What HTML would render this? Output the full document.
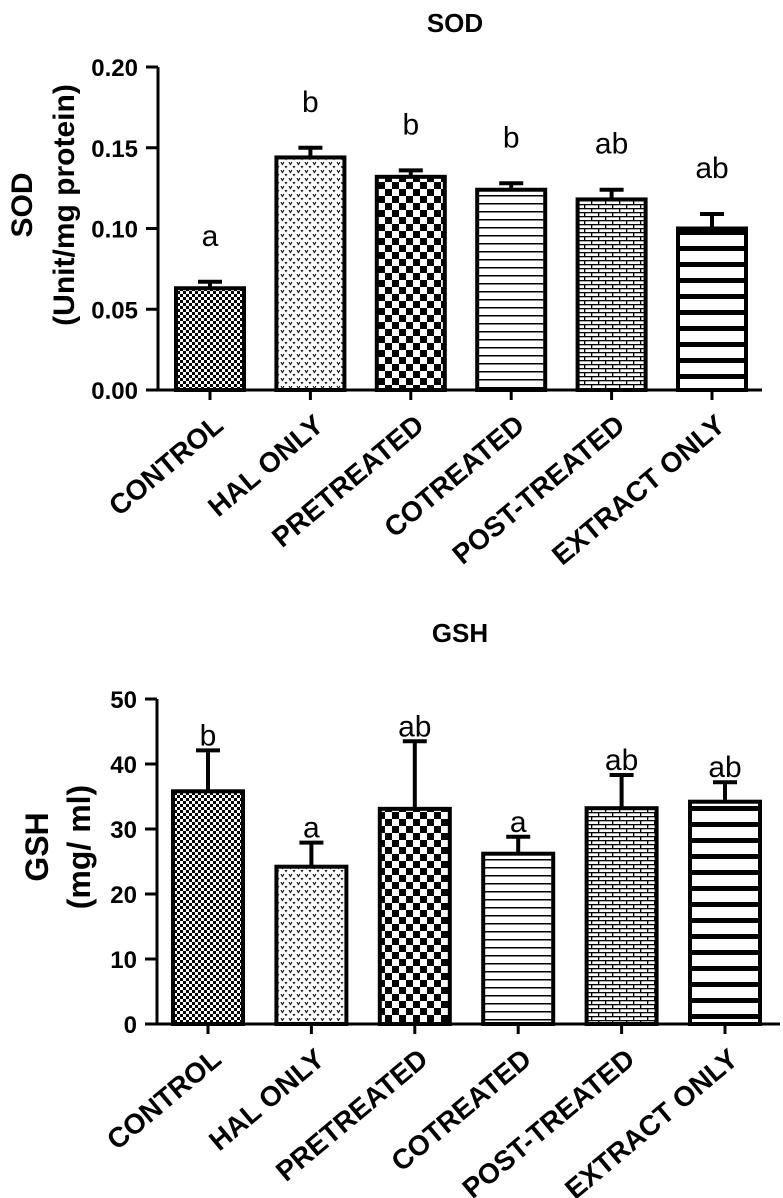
<!DOCTYPE html>
<html><head><meta charset="utf-8"><style>
html,body{margin:0;padding:0;background:#fff;}
svg{display:block;font-family:"Liberation Sans",Arial,sans-serif;}
</style></head><body>
<svg id="chart" width="783" height="1198" viewBox="0 0 783 1198">
<defs>
<pattern id="p0" width="6" height="6" patternUnits="userSpaceOnUse"><rect width="6" height="6" fill="#fff"/><rect width="3" height="3" fill="#000"/><rect x="3" y="3" width="3" height="3" fill="#000"/></pattern>
<pattern id="p1" width="8" height="8" patternUnits="userSpaceOnUse"><rect width="8" height="8" fill="#fff"/><path d="M1 2 L2.5 4.5 L4 2 M5 6 L6 7.5 L7 6" stroke="#000" stroke-width="1" fill="none"/></pattern>
<pattern id="p2" width="14" height="14" patternUnits="userSpaceOnUse"><rect width="14" height="14" fill="#fff"/><rect width="7" height="7" fill="#000"/><rect x="7" y="7" width="7" height="7" fill="#000"/></pattern>
<pattern id="p3" width="10" height="8" patternUnits="userSpaceOnUse"><rect width="10" height="8" fill="#fff"/><rect y="3" width="10" height="1.5" fill="#000"/></pattern>
<pattern id="p4" width="14" height="8" patternUnits="userSpaceOnUse"><rect width="14" height="8" fill="#fff"/><rect y="0" width="14" height="1.3" fill="#000"/><rect y="4" width="14" height="1.3" fill="#000"/><rect x="3" y="0" width="1.3" height="4" fill="#000"/><rect x="10" y="4" width="1.3" height="4" fill="#000"/></pattern>
<pattern id="p5" width="10" height="16" patternUnits="userSpaceOnUse"><rect width="10" height="16" fill="#fff"/><rect y="6" width="10" height="5" fill="#000"/></pattern>
</defs>
<g id="g"></g>
</svg>
<script>
const categories = ["CONTROL","HAL ONLY","PRETREATED","COTREATED","POST-TREATED","EXTRACT ONLY"];
const sodValues = [0.063,0.144,0.132,0.124,0.118,0.100];
const sodErrors = [0.004,0.006,0.004,0.004,0.006,0.009];
const sodLetters = ["a","b","b","b","ab","ab"];
const sodTicks = ["0.00","0.05","0.10","0.15","0.20"];
const gshValues = [35.8,24.2,33.1,26.2,33.2,34.2];
const gshErrors = [6.3,3.7,10.4,2.6,5.1,3.0];
const gshLetters = ["b","a","ab","a","ab","ab"];
const gshTicks = ["0","10","20","30","40","50"];

const NS="http://www.w3.org/2000/svg";
const root=document.getElementById('g');
function mk(tag,attrs,parent){const e=document.createElementNS(NS,tag);for(const k in attrs)e.setAttribute(k,attrs[k]);(parent||root).appendChild(e);return e;}

function drawChart(cfg){
  const g=mk('g',{});
  
  
  const yS=v=>cfg.y0-(v-cfg.min)/(cfg.max-cfg.min)*(cfg.y0-cfg.yTop);
  const xS=i=>cfg.x0c+i*cfg.step;
  const t=mk('text',{x:cfg.titleX,y:cfg.titleY,'text-anchor':'middle','font-size':26,'font-weight':'bold'},g);
  t.textContent=cfg.title;
  
  
  const yt=mk('text',{transform:`translate(${cfg.ytX},${cfg.ytY}) rotate(-90)`,'text-anchor':'middle','font-size':cfg.ytSize,'font-weight':'bold'},g);
  
  
  cfg.ytLines.forEach((l,i)=>{const ts=mk('tspan',{x:0,dy:i?42:0},yt);ts.textContent=l;});
  categories.forEach((c,i)=>{
    const cx=xS(i),v=cfg.values[i],e=cfg.errors[i];
    const bw=cfg.bw;
    const r=mk('rect',{x:cx-bw/2,y:yS(v),width:bw,height:cfg.y0-yS(v),fill:`url(#p${i})`,stroke:'#000','stroke-width':4},g);
    
    
    const eb=mk('path',{d:`M${cx} ${yS(v)} V${yS(v+e)} M${cx-12} ${yS(v+e)} H${cx+12}`,stroke:'#000','stroke-width':4,fill:'none'},g);
    
    
    const lt=mk('text',{x:cx,y:yS(v+e)-cfg.letterGap,'text-anchor':'middle','font-size':30},g);
    lt.textContent=cfg.letters[i];
    
    
    const tk=mk('line',{x1:cx,x2:cx,y1:cfg.y0,y2:cfg.y0+10,stroke:'#000','stroke-width':3},g);
    
    
    const xl=mk('text',{transform:`translate(${cx+15},${cfg.y0+38}) rotate(-40)`,'text-anchor':'end','font-size':28,'font-weight':'bold'},g);
    xl.textContent=c;
    
    
  });
  const ya=mk('line',{x1:cfg.ax,x2:cfg.ax,y1:cfg.yTop,y2:cfg.y0,stroke:'#000','stroke-width':3},g);
  
  
  const xa=mk('line',{x1:cfg.ax,x2:cfg.xEnd,y1:cfg.y0,y2:cfg.y0,stroke:'#000','stroke-width':3},g);
  
  
  cfg.ticks.forEach(tv=>{
    const y=yS(parseFloat(tv));
    const tl=mk('line',{x1:cfg.ax-12,x2:cfg.ax,y1:y,y2:y,stroke:'#000','stroke-width':3},g);
    
    
    const tt=mk('text',{x:cfg.ax-20,y:y+9,'text-anchor':'end','font-size':24,'font-weight':'bold'},g);
    tt.textContent=tv;
    
    
  });
}
drawChart({name:'sod-chart',title:'SOD',titleX:455,titleY:32,ytX:32,ytY:205,ytSize:30,ytLines:['SOD','(Unit/mg protein)'],
  values:sodValues,errors:sodErrors,letters:sodLetters,ticks:sodTicks,min:0,max:0.2,y0:390,yTop:67,
  ax:158,xEnd:762,x0c:210,step:100.4,bw:68,letterGap:36});
drawChart({name:'gsh-chart',title:'GSH',titleX:460,titleY:642,ytX:48,ytY:847,ytSize:32,ytLines:['GSH','(mg/ ml)'],
  values:gshValues,errors:gshErrors,letters:gshLetters,ticks:gshTicks,min:0,max:50,y0:1024,yTop:699,
  ax:157,xEnd:780,x0c:208,step:103.4,bw:70,letterGap:5});
</script>
</body></html>
